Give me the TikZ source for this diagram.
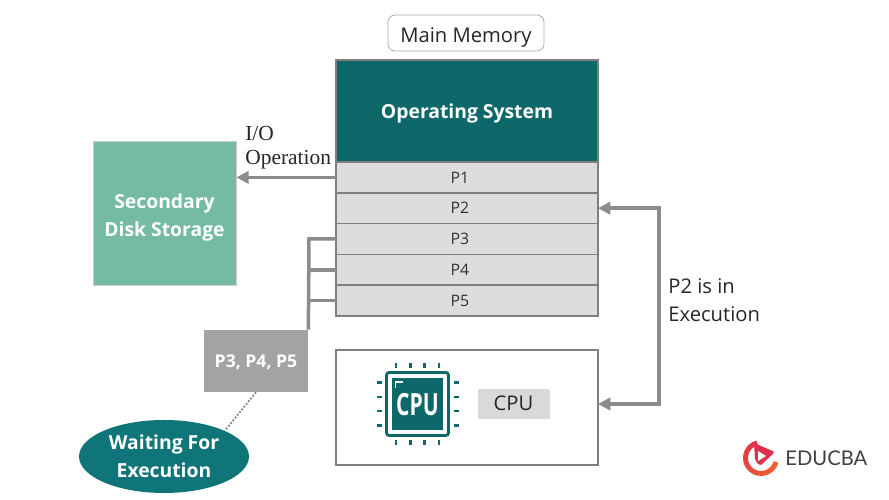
\documentclass[tikz,border=0pt]{standalone}
\usepackage{fontspec}
\setmainfont{Open Sans}
\newfontfamily\ioface{Liberation Serif}
\newfontfamily\logoface{Lato}
\usetikzlibrary{positioning,arrows.meta,shapes.geometric,shadows,calc}

\definecolor{osteal}{HTML}{0E6769}
\definecolor{waitteal}{HTML}{0F7578}
\definecolor{diskgreen}{HTML}{75BBA4}
\definecolor{rowgray}{HTML}{DEDCDC}
\definecolor{edgegray}{HTML}{7F7F7F}
\definecolor{linkgray}{HTML}{8C8C8C}
\definecolor{waitgray}{HTML}{A3A3A3}
\definecolor{logored}{HTML}{DF2F4E}
\definecolor{logoorange}{HTML}{F0602C}

\tikzset{
    softshadow/.style={drop shadow={shadow xshift=0.7pt, shadow yshift=-0.8pt, opacity=0.3}},
    membox/.style={draw=edgegray, line width=0.9pt, minimum width=5.24cm, inner sep=0pt, outer sep=0pt, softshadow},
    procrow/.style={membox, fill=rowgray, minimum height=0.616cm, font=\fontsize{9}{11}\selectfont, text=black!80},
    link/.style={draw=linkgray, line width=2pt, >={Stealth[length=7pt,width=7pt,inset=0pt]}},
    whitehead/.style={text=white, font=\bfseries\fontsize{11}{16}\selectfont, align=center, inner sep=0pt},
    plainlabel/.style={text=black!85, align=left, inner sep=0pt, anchor=west}
}

\begin{document}
\begin{tikzpicture}
    \useasboundingbox (0,0) rectangle (17.78,10);

    % Main memory stack
    \node[draw=black!35, rounded corners=4pt, minimum width=3.12cm, minimum height=0.72cm, inner sep=0pt, text height=10.3pt, text depth=0pt, font=\fontsize{11.5}{14}\selectfont, text=black!85] (mainmem) at (9.32,9.34) {Main Memory};
    \node[membox, fill=osteal, minimum height=2.04cm, whitehead, align=none, text depth=0pt] (os) at (9.34,7.78) {Operating System};
    \node[procrow, below=0pt of os] (p1) {P1\kern0.28cm};
    \foreach \i [remember=\i as \j (initially 1)] in {2,...,5}
        \node[procrow, below=0pt of p\j] (p\i) {P\i\kern0.28cm};

    % Disk on the left
    \node[fill=diskgreen, draw=black!20, minimum width=2.86cm, minimum height=2.88cm, inner sep=0pt, whitehead] (disk) at (3.29,5.74) {\rule{0pt}{13pt}Secondary\\Disk Storage};
    \draw[link,->] (p1.west) -- (disk.east |- p1.west);
    \node[font=\ioface\fontsize{12.2}{13.6}\selectfont, text=black!85, align=left, inner sep=0pt, anchor=south west] (iolabel) at (4.9,6.62) {I/O\\Operation};

    % Waiting processes
    \node[fill=waitgray, minimum width=2.08cm, minimum height=1.24cm, inner sep=0pt, whitehead, align=none, text depth=0pt, font=\bfseries\fontsize{10}{14}\selectfont] (waitbox) at (5.12,2.78) {P3, P4, P5};
    \node[ellipse, fill=waitteal, minimum width=3.4cm, minimum height=1.46cm, inner sep=0pt, whitehead] (waiting) at (3.28,0.87) {Waiting For\\Execution};
    \draw[densely dotted, line width=1pt, edgegray] (waitbox.south) -- (waiting.23);

    % Bus from P3, P4 and P5
    \draw[link] (p3.west) -- ++(-0.54,0) coordinate (bustop) -- (waitbox.north east);
    \draw[link] (p4.west) -- (p4.west -| bustop);
    \draw[link] (p5.west) -- (p5.west -| bustop);

    % CPU panel
    \node[membox, fill=white, minimum height=2.3cm] (cpubox) at (9.34,1.85) {};
    \node[fill=black!15, minimum width=1.42cm, minimum height=0.58cm, inner sep=0pt, softshadow, font=\fontsize{11.5}{14}\selectfont, text=black!85] (cpulabel) at (10.27,1.93) {CPU};
    \begin{scope}[shift={(8.35,1.92)}]
        \draw[osteal, line width=1.6pt, rounded corners=1.5pt] (-0.62,-0.63) rectangle (0.62,0.63);
        \fill[osteal] (-0.51,-0.52) rectangle (0.51,0.52);
        \draw[white, line width=1pt] (-0.44,0.32) -- (-0.44,0.44) -- (-0.3,0.44);
        \foreach \p in {-0.43,-0.14,0.14,0.43} {
            \draw[osteal, line width=1.6pt] (\p,0.72) -- (\p,0.82);
            \draw[osteal, line width=1.6pt] (\p,-0.72) -- (\p,-0.82);
            \draw[osteal, line width=1.6pt] (-0.72,\p) -- (-0.82,\p);
            \draw[osteal, line width=1.6pt] (0.72,\p) -- (0.82,\p);
        }
        \node[text=white, inner sep=0pt, yscale=1.45, font=\bfseries\fontsize{12}{16}\selectfont] (cpuchip) at (0,-0.02) {CPU};
    \end{scope}

    % P2 runs on the CPU
    \draw[link,<->] (p2.east) -- ++(1.22,0) coordinate (runbend) |- ([yshift=2pt]cpubox.east);
    \node[plainlabel, font=\fontsize{11.5}{16}\selectfont] (runlabel) at (13.36,3.99) {P2 is in\\Execution};

    % Logo
    \foreach \a [evaluate=\a as \m using {(\a+15)/-2.4}] in {-15,-35,...,-235}
        \draw[logored!\m!logoorange, line width=2.8pt] (15.22,0.84) ++(\a:0.31) arc (\a:\a-21:0.31);
    \fill[logored, rounded corners=1pt] (15.08,1.14) -- (15.5,0.96) -- (15.2,0.68) -- (15.1,0.8) -- cycle;
    \fill[white] (15.16,0.98) -- (15.32,0.88) -- (15.16,0.78) -- cycle;
    \node[inner sep=0pt, anchor=west, text=black!75, font=\logoface\fontsize{11.5}{14}\selectfont] (logotext) at (15.7,0.84) {EDUCBA};
\end{tikzpicture}
\end{document}
